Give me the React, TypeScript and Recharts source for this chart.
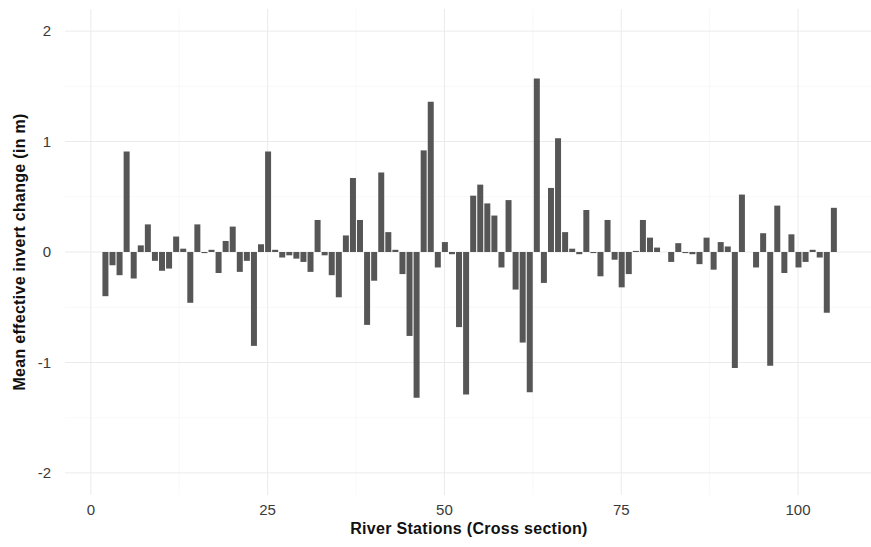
import React from "react";
import {
  BarChart,
  Bar,
  XAxis,
  YAxis,
  CartesianGrid,
  Label,
} from "recharts";

// river station numbers (cross sections)
const stations = [
  2, 3, 4, 5, 6, 7, 8, 9, 10, 11, 12, 13, 14, 15, 16, 17, 18, 19, 20, 21,
  22, 23, 24, 25, 26, 27, 28, 29, 30, 31, 32, 33, 34, 35, 36, 37, 38, 39, 40,
  41, 42, 43, 44, 45, 46, 47, 48, 49, 50, 51, 52, 53, 54, 55, 56, 57, 58, 59,
  60, 61, 62, 63, 64, 65, 66, 67, 68, 69, 70, 71, 72, 73, 74, 75, 76, 77, 78,
  79, 80, 81, 82, 83, 84, 85, 86, 87, 88, 89, 90, 91, 92, 93, 94, 95, 96, 97,
  98, 99, 100, 101, 102, 103, 104, 105,
];

// mean effective invert change (m)
const invertChange = [
  -0.4, -0.12, -0.21, 0.91, -0.24, 0.06, 0.25, -0.08, -0.17, -0.15, 0.14,
  0.03, -0.46, 0.25, -0.01, 0.02, -0.19, 0.1, 0.23, -0.18, -0.08, -0.85, 0.07,
  0.91, 0.02, -0.05, -0.03, -0.06, -0.09, -0.18, 0.29, -0.03, -0.21, -0.41,
  0.15, 0.67, 0.29, -0.66, -0.26, 0.72, 0.18, 0.02, -0.2, -0.76, -1.32, 0.92,
  1.36, -0.14, 0.09, -0.02, -0.68, -1.29, 0.51, 0.61, 0.44, 0.33, -0.14, 0.47,
  -0.34, -0.82, -1.27, 1.57, -0.28, 0.58, 1.03, 0.18, 0.03, -0.02, 0.38,
  -0.01, -0.22, 0.29, -0.07, -0.32, -0.2, 0.01, 0.29, 0.13, 0.04, 0, -0.09,
  0.08, -0.01, -0.02, -0.11, 0.13, -0.16, 0.09, 0.05, -1.05, 0.52, 0, -0.14,
  0.17, -1.03, 0.42, -0.19, 0.16, -0.14, -0.09, 0.02, -0.05, -0.55, 0.4,
];

const xTicks = [0, 25, 50, 75, 100];
const xMinor = [12.5, 37.5, 62.5, 87.5];
const yTicks = [-2, -1, 0, 1, 2];
const yMinor = [-1.5, -0.5, 0.5, 1.5];

const data = stations.map((s, i) => ({ station: s, change: invertChange[i] }));

const font = "'Liberation Sans', Arial, sans-serif";
const tickStyle = { fill: "#3a3a3a", fontSize: 15, fontFamily: font };
const titleStyle = {
  fill: "#111",
  fontSize: 16,
  fontWeight: "bold",
  fontFamily: font,
  textAnchor: "middle",
  letterSpacing: 0.3,
} as React.CSSProperties;

export default function App() {
  return (
    <div
      style={{
        position: "absolute",
        left: 0,
        top: 0,
        width: 871,
        height: 547,
        overflow: "hidden",
        background: "#fff",
      }}
    >
      <BarChart
        width={873}
        height={547}
        data={data}
        margin={{ top: 9, right: 0, bottom: 0, left: 0 }}
      >
        <CartesianGrid
          stroke="#f3f3f3"
          strokeWidth={0.6}
          horizontalValues={yMinor}
          verticalValues={xMinor}
        />
        <CartesianGrid
          stroke="#ebebeb"
          strokeWidth={1}
          horizontalValues={yTicks}
          verticalValues={xTicks}
        />
        <XAxis
          dataKey="station"
          type="number"
          domain={[-3.65, 110.6]}
          ticks={xTicks}
          allowDataOverflow
          axisLine={false}
          tickLine={false}
          tickSize={0}
          tickMargin={9}
          height={52}
          tick={tickStyle}
        >
          <Label
            value="River Stations (Cross section)"
            position="insideBottom"
            offset={13}
            style={titleStyle}
          />
        </XAxis>
        <YAxis
          type="number"
          domain={[-2.2, 2.2]}
          ticks={yTicks}
          allowDataOverflow
          axisLine={false}
          tickLine={false}
          tickSize={0}
          tickMargin={14}
          width={65}
          tick={tickStyle}
        >
          <Label
            value="Mean effective invert change (in m)"
            angle={-90}
            position="insideLeft"
            offset={19}
            style={titleStyle}
          />
        </YAxis>
        <Bar
          dataKey="change"
          fill="#565656"
          barSize={6}
          isAnimationActive={false}
        />
      </BarChart>
    </div>
  );
}
